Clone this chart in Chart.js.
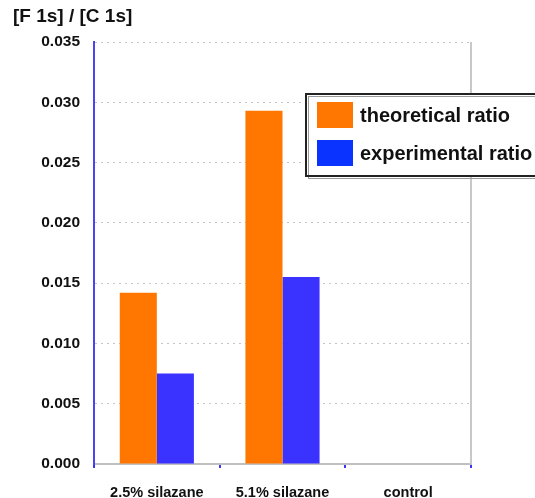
<!DOCTYPE html>
<html>
<head>
<meta charset="utf-8">
<script src="https://cdn.jsdelivr.net/npm/chart.js@4/dist/chart.umd.min.js"></script>
<style>
  html, body { margin: 0; padding: 0; background: #fff; }
  #wrap { width: 535px; height: 498px; }
</style>
</head>
<body>
<div id="wrap"><canvas id="ratioChart" width="535" height="498"></canvas></div>
<script>
// F 1s / C 1s ratios per sample
const samples = ['2.5% silazane', '5.1% silazane', 'control'];
const theoretical = [0.0142, 0.0293, null];
const experimental = [0.0075, 0.0155, null];
const yTicks = [0, 0.005, 0.010, 0.015, 0.020, 0.025, 0.030, 0.035];

const FONT = '"Liberation Sans", Arial, Helvetica, sans-serif';

// axis title in the top-left corner, box legend and frame lines
const decorations = {
    id: 'decorations',
    afterDraw(chart) {
        const ctx = chart.ctx;
        const area = chart.chartArea;
        ctx.save();

        // right frame
        ctx.strokeStyle = '#c8c8c8';
        ctx.lineWidth = 2;
        ctx.beginPath();
        ctx.moveTo(area.right, area.top);
        ctx.lineTo(area.right, area.bottom);
        ctx.stroke();

        // solid blue y axis line
        ctx.strokeStyle = '#4a44ee';
        ctx.beginPath();
        ctx.moveTo(area.left, area.top);
        ctx.lineTo(area.left, area.bottom + 1);
        ctx.stroke();

        // y axis caption
        ctx.fillStyle = '#111';
        ctx.font = 'bold 19px ' + FONT;
        ctx.textBaseline = 'middle';
        ctx.textAlign = 'left';
        ctx.fillText('[F 1s] / [C 1s]', 13, 17);

        // legend box
        const bx = 306, by = 94, bw = 240, bh = 82;
        ctx.fillStyle = '#fff';
        ctx.fillRect(bx, by, bw, bh);
        ctx.strokeStyle = '#999';
        ctx.lineWidth = 1;
        ctx.strokeRect(bx + 2.5, by + 2.5, bw, bh);
        ctx.strokeStyle = '#222';
        ctx.lineWidth = 2;
        ctx.strokeRect(bx, by, bw, bh);

        ctx.font = 'bold 20px ' + FONT;
        chart.data.datasets.forEach((ds, i) => {
            const sy = 102 + i * 38;
            ctx.fillStyle = ds.legendColor;
            ctx.fillRect(317, sy, 36, 26);
            ctx.fillStyle = '#111';
            ctx.fillText(ds.label, 360, sy + 14);
        });
        ctx.restore();
    }
};

new Chart(document.getElementById('ratioChart'), {
    type: 'bar',
    data: {
        labels: samples,
        datasets: [
            {
                label: 'theoretical ratio',
                data: theoretical,
                backgroundColor: '#ff7700',
                legendColor: '#ff7700'
            },
            {
                label: 'experimental ratio',
                data: experimental,
                backgroundColor: '#3a33ff',
                legendColor: '#0b33ff'
            }
        ]
    },
    options: {
        responsive: false,
        animation: false,
        layout: { padding: { top: 42, right: 64, left: 0, bottom: 0 } },
        datasets: {
            bar: { categoryPercentage: 0.59, barPercentage: 1.0 }
        },
        plugins: {
            legend: { display: false },
            tooltip: { enabled: false }
        },
        scales: {
            x: {
                grid: {
                    offset: true,
                    drawOnChartArea: false,
                    drawTicks: true,
                    tickLength: 4,
                    color: '#3a33ff',
                    lineWidth: 2
                },
                border: { color: '#c0c0c0', width: 2 },
                ticks: {
                    color: '#111',
                    font: { family: FONT, size: 14.5, weight: 'bold' },
                    padding: 16,
                    maxRotation: 0
                },
                afterFit(scale) { scale.height = 34; }
            },
            y: {
                min: 0,
                max: 0.035,
                afterBuildTicks(scale) {
                    scale.ticks = yTicks.map(v => ({ value: v }));
                },
                grid: {
                    drawTicks: false,
                    color: '#c4c4c4',
                    lineWidth: 1
                },
                // dotted grid lines
                border: { color: '#4a44ee', width: 2, dash: [2, 4] },
                ticks: {
                    color: '#111',
                    font: { family: FONT, size: 15.5, weight: 'bold' },
                    padding: 14,
                    callback: v => v.toFixed(3)
                },
                afterFit(scale) { scale.width = 94; }
            }
        }
    },
    plugins: [decorations]
});
</script>
</body>
</html>
